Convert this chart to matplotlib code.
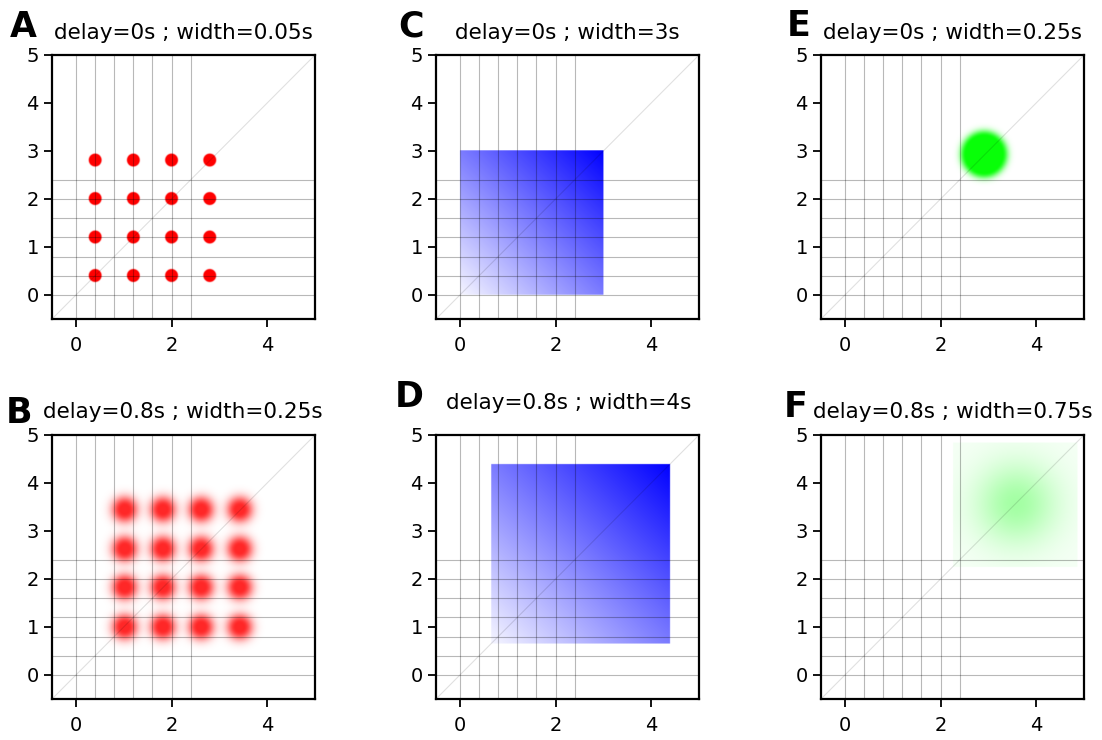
import numpy as np
import matplotlib
matplotlib.use("Agg")
import matplotlib.pyplot as plt

# ---------------- data ----------------
panel_letters = ["A", "B", "C", "D", "E", "F"]
panel_titles = ["delay=0s ; width=0.05s", "delay=0.8s ; width=0.25s",
                "delay=0s ; width=3s", "delay=0.8s ; width=4s",
                "delay=0s ; width=0.25s", "delay=0.8s ; width=0.75s"]
grid_x = [0.0, 0.4, 0.8, 1.2, 1.6, 2.0, 2.4]
grid_y = [0.0, 0.4, 0.8, 1.2, 1.6, 2.0, 2.4]
x_ticks = [0, 2, 4]
y_ticks = [0, 1, 2, 3, 4, 5]
axis_lim = [-0.5, 5.0]

# A: sharp red dots
dots_a_x = [0.4, 1.2, 2.0, 2.8]
dots_a_y = [0.4, 1.2, 2.0, 2.8]
# B: blurred red dots
dots_b_x = [1.02, 1.82, 2.62, 3.43]
dots_b_y = [1.00, 1.83, 2.63, 3.45]
# C, D: blue gradient squares [x0, x1] (same for y)
square_c = [0.0, 3.0]
square_d = [0.65, 4.4]
# E: green disc centre
disc_e = [2.9, 2.92]
# F: blurred green blob centre and bounding square
blob_f = [3.57, 3.57]
square_f = [2.25, 4.85]

# ---------------- helpers ----------------
N = 600
xs = np.linspace(axis_lim[0], axis_lim[1], N)
X, Y = np.meshgrid(xs, xs)
EXT = (axis_lim[0], axis_lim[1], axis_lim[0], axis_lim[1])


def rgba(color, alpha):
    img = np.zeros((N, N, 4))
    img[..., 0] = color[0]
    img[..., 1] = color[1]
    img[..., 2] = color[2]
    img[..., 3] = np.clip(alpha, 0, 1)
    return img


def disc_alpha(cx, cy, r_core, sigma):
    d = np.hypot(X - cx, Y - cy)
    return np.exp(-np.maximum(d - r_core, 0) ** 2 / (2 * sigma ** 2))


def dots_image(px, py, r_core, sigma, peak):
    keep = np.ones_like(X)
    for cx in px:
        for cy in py:
            keep *= 1 - disc_alpha(cx, cy, r_core, sigma)
    return peak * (1 - keep)


def square_grad(sq):
    x0, x1 = sq
    L = x1 - x0
    a = 0.04 + 0.96 * ((X - x0) + (Y - x0)) / (2 * L)
    inside = (X >= x0) & (X <= x1) & (Y >= x0) & (Y <= x1)
    return np.where(inside, a, 0)


RED = (1, 0, 0)
BLUE = (0, 0, 1)
GREEN = (0, 1, 0)

images = {
    "A": rgba(RED, dots_image(dots_a_x, dots_a_y, 0.12, 0.012, 1.0)),
    "B": rgba(RED, dots_image(dots_b_x, dots_b_y, 0.08, 0.14, 0.85)),
    "C": rgba(BLUE, square_grad(square_c)),
    "D": rgba(BLUE, square_grad(square_d)),
    "E": rgba(GREEN, 0.97 * disc_alpha(disc_e[0], disc_e[1], 0.38, 0.09)),
}
inside_f = ((X >= square_f[0]) & (X <= square_f[1]) &
            (Y >= square_f[0]) & (Y <= square_f[1]))
gf = np.exp(-((X - blob_f[0]) ** 2 + (Y - blob_f[1]) ** 2) / (2 * 0.6 ** 2))
images["F"] = rgba(GREEN, np.where(inside_f, 0.04 + 0.32 * gf, 0))

# ---------------- layout ----------------
W, H = 1102, 740
fig = plt.figure(figsize=(W / 100, H / 100), dpi=100)
col_left = [52, 436, 821]
row_top = [55, 435]
aw, ah = 263, 264

# per-panel label/title placement (axes fraction)
letter_pos = {"A": (-0.160, 1.069), "B": (-0.174, 1.045), "C": (-0.144, 1.069),
              "D": (-0.156, 1.107), "E": (-0.130, 1.072), "F": (-0.141, 1.069)}
title_pos = {"A": (0.500, 1.060), "B": (0.497, 1.063), "C": (0.500, 1.060),
             "D": (0.504, 1.097), "E": (0.500, 1.060), "F": (0.502, 1.064)}

order = [("A", 0, 0), ("B", 1, 0), ("C", 0, 1), ("D", 1, 1), ("E", 0, 2), ("F", 1, 2)]
for key, r, c in order:
    i = panel_letters.index(key)
    left = col_left[c] / W
    bottom = 1 - (row_top[r] + ah) / H
    ax = fig.add_axes([left, bottom, aw / W, ah / H])
    ax.imshow(images[key], extent=EXT, origin="lower", interpolation="bilinear",
              zorder=1, aspect="auto")
    for gx in grid_x:
        ax.axvline(gx, color="black", alpha=0.28, lw=0.8, zorder=2)
    for gy in grid_y:
        ax.axhline(gy, color="black", alpha=0.28, lw=0.8, zorder=2)
    ax.plot(axis_lim, axis_lim, color="black", alpha=0.12, lw=0.8, zorder=2)
    ax.set_xlim(axis_lim)
    ax.set_ylim(axis_lim)
    ax.set_xticks(x_ticks)
    ax.set_yticks(y_ticks)
    ax.tick_params(labelsize=14, length=5.5, width=1.3, colors="black", pad=4)
    ax.tick_params(axis="x", pad=7)
    for sp in ax.spines.values():
        sp.set_linewidth(1.6)
    lx, ly = letter_pos[key]
    ax.text(lx, ly, key, transform=ax.transAxes, fontsize=25, fontweight="heavy",
            ha="left", va="baseline")
    tx, ty = title_pos[key]
    ax.text(tx, ty, panel_titles[i], transform=ax.transAxes, fontsize=15.5,
            ha="center", va="baseline")

fig.savefig("out.png", dpi=100)
